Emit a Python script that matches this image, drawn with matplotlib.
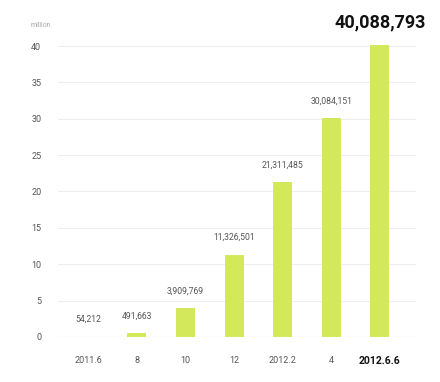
import matplotlib
matplotlib.use('Agg')
import matplotlib.pyplot as plt

plt.rcParams['font.family'] = ['Roboto', 'DejaVu Sans']

periods = ['2011.6', '8', '10', '12', '2012.2', '4', '2012.6.6']
users = [54212, 491663, 3909769, 11326501, 21311485, 30084151, 40088793]
y_ticks = [0, 5, 10, 15, 20, 25, 30, 35, 40]

vals = [u / 1e6 for u in users]
x = list(range(len(periods)))

fig = plt.figure(figsize=(4.4, 3.82), dpi=100)
ax = fig.add_axes([0.132, 0.118, 0.813, 0.79])

ax.bar(x, vals, width=0.39, color='#d3e85b', zorder=2)
ax.set_xlim(-0.62, 6.74)
ax.set_ylim(0, 41.5)

ax.set_yticks(y_ticks)
ax.yaxis.grid(True, color='#eeeeee', linewidth=0.8, zorder=0)
ax.tick_params(axis='y', length=0, pad=12, labelsize=6.5, labelcolor='#555555')
ax.tick_params(axis='x', length=0, pad=14, labelsize=6.5, labelcolor='#555555')
ax.set_xticks(x)
ax.set_xticklabels(periods)
last = ax.get_xticklabels()[-1]
last.set_fontweight('bold')
last.set_color('#111111')
last.set_fontsize(7.5)
for s in ax.spines.values():
    s.set_visible(False)
ax.axhline(0, color='#e4e4e4', linewidth=0.8, zorder=1)

for i, (v, u) in enumerate(zip(vals[:-1], users[:-1])):
    ax.annotate(f'{u:,}', (i, v), xytext=(0, 9), textcoords='offset points',
                ha='center', va='bottom', fontsize=6.2, color='#555555')

ax.annotate(f'{users[-1]:,}', (x[-1], vals[-1]), xytext=(0, 10),
            textcoords='offset points', ha='center', va='bottom',
            fontsize=13, fontweight='bold', color='#111111', annotation_clip=False)

fig.text(0.092, 0.93, 'million', fontsize=5, color='#aaaaaa', ha='center')

fig.savefig('out.png', dpi=100)
